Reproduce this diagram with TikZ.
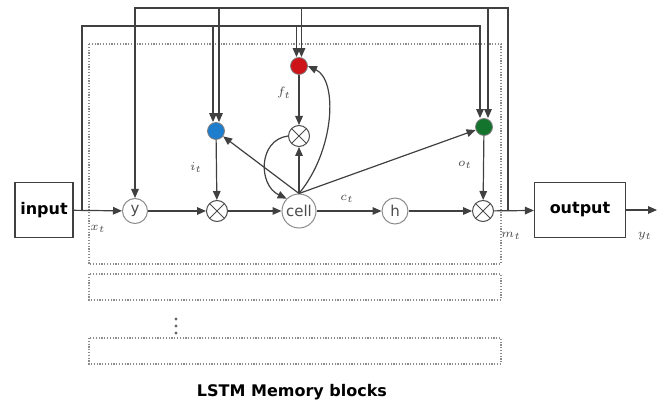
\documentclass[tikz,border=0pt]{standalone}
\usepackage{fontspec}
\setmainfont{DejaVu Sans}
\usetikzlibrary{arrows.meta,calc}
\definecolor{gateblue}{RGB}{30,125,205}
\definecolor{gatered}{RGB}{205,20,25}
\definecolor{gategreen}{RGB}{20,115,45}

\begin{document}
\begin{tikzpicture}[x=0.5pt, y=-0.5pt,
  box/.style={draw=black!75, line width=0.6pt, inner sep=0pt, font=\fontsize{8}{9}\selectfont\bfseries},
  unit/.style={circle, draw=black!45, line width=0.5pt, inner sep=0pt, text=black!70, font=\fontsize{7.5}{8}\selectfont},
  mult/.style={circle, draw=black!70, line width=0.5pt, inner sep=0pt, minimum size=10.5pt,
    path picture={\draw[black!70, line width=0.5pt]
      (path picture bounding box.north west) -- (path picture bounding box.south east)
      (path picture bounding box.north east) -- (path picture bounding box.south west);}},
  gate/.style={circle, draw=black!50, line width=0.4pt, inner sep=0pt, minimum size=8.5pt},
  arr/.style={-{Triangle[length=4.5pt,width=3.8pt]}, line width=0.6pt, draw=black!75},
  blk/.style={draw=black!45, line width=0.6pt, dash pattern=on 0.6pt off 0.8pt},
  lbl/.style={font=\fontsize{6.5}{7}\selectfont, text=black!70}
]
\useasboundingbox (0,0) rectangle (657,405);

\draw[blk] (89,44) rectangle (501,264);
\draw[blk] (89,274) rectangle (501,300);
\draw[blk] (89,338) rectangle (501,364);
\foreach \dy in {319,326,333}
  \fill[black!60] (176,\dy) circle (0.8pt);

\node[box, minimum width=29pt, minimum height=27.5pt] (input) at (44,210) {input};
\node[box, minimum width=45.5pt, minimum height=27.5pt] (output) at (580,210) {output};
\node[unit, minimum size=12.5pt] (squash) at (135,211) {y};
\node[mult] (mi) at (217,211) {};
\node[unit, minimum size=17pt] (cell) at (299,211) {cell};
\node[unit, minimum size=13pt] (hout) at (395,211) {h};
\node[mult] (mo) at (483,211) {};
\node[gate, fill=gateblue] (ig) at (216,131) {};
\node[gate, fill=gatered] (fg) at (299,66) {};
\node[mult] (mf) at (299,136) {};
\node[gate, fill=gategreen] (og) at (484,127) {};

\coordinate (xin) at (82,210);
\coordinate (mout) at (508,210);
\coordinate (xtop) at (82,26);
\coordinate (mtop) at (508,8);
\coordinate (yend) at (657,210);
\coordinate (igx) at ($(ig.north)+(-3,0)$);
\coordinate (igm) at ($(ig.north)+(3,0)$);
\coordinate (fgx) at ($(fg.north)+(-2.5,0)$);
\coordinate (fgm) at ($(fg.north)+(2.5,0)$);
\coordinate (ogx) at ($(og.north)+(-4,0)$);
\coordinate (ogm) at ($(og.north)+(4,0)$);

\draw[arr] (input) -- (squash);
\draw[arr] (squash) -- (mi);
\draw[arr] (mi) -- (cell);
\draw[arr] (cell) -- (hout);
\draw[arr] (hout) -- (mo);
\draw[arr] (mo) -- (output);
\draw[arr] (output) -- (yend);

\draw[arr] (xin) -- (xtop) -| (ogx);
\draw[arr] (igx |- xtop) -- (igx);
\draw[arr] (fgx |- xtop) -- (fgx);
\draw[arr] (mout) -- (mtop) -| (squash);
\draw[arr] (igm |- mtop) -- (igm);
\draw[arr] (fgm |- mtop) -- (fgm);
\draw[arr] (ogm |- mtop) -- (ogm);

\draw[arr] (ig) -- (mi);
\draw[arr] (fg) -- (mf);
\draw[arr] (og) -- (mo);
\draw[arr] (cell) -- (mf);
\draw[arr] (cell.north) -- (ig);
\draw[arr] (cell.north) -- (og);
\draw[arr] (cell.north) .. controls (335,150) and (338,80) .. (fg.east);
\draw[arr] (mf.west) .. controls (258,140) and (258,185) .. (cell.north west);

\node[lbl] (xlbl) at (98,229) {$x_t$};
\node[lbl] (clbl) at (347,199) {$c_t$};
\node[lbl] (mlbl) at (511,236) {$m_t$};
\node[lbl] (ylbl) at (645,236) {$y_t$};
\node[lbl] (flbl) at (284,93) {$f_t$};
\node[lbl] (ilbl) at (196,168) {$i_t$};
\node[lbl] (olbl) at (465,165) {$o_t$};
\node[font=\fontsize{8}{9}\selectfont\bfseries] (title) at (292,392) {LSTM Memory blocks};
\end{tikzpicture}
\end{document}
